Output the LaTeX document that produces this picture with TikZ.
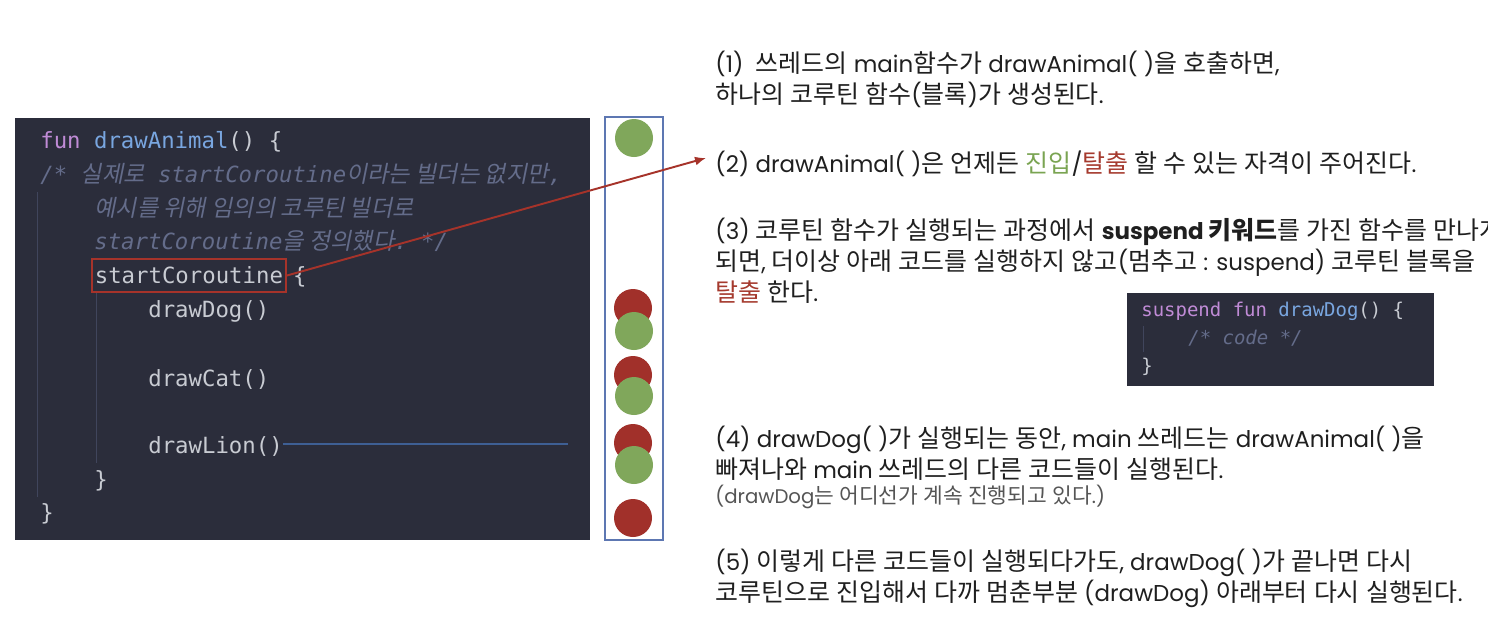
\documentclass[tikz,border=0pt]{standalone}
\usepackage{fontspec}
\setmainfont{Poppins}[Scale=0.92]
\setmonofont{DejaVu Sans Mono}
\newfontfamily\hangulfont{Noto Sans CJK KR}
\newfontfamily\codeko{Noto Sans CJK KR}[FakeSlant=0.2]
\usetikzlibrary{arrows.meta}

% Hangul syllables switch to the Korean family, everything else back to Poppins
\newXeTeXintercharclass\hgclass
\newcount\hgcode
\hgcode="AC00
\loop\ifnum\hgcode<"D7A4 \XeTeXcharclass\hgcode=\hgclass \advance\hgcode by 1 \repeat
\XeTeXinterchartoks 0 \hgclass = {\hangulfont}
\XeTeXinterchartoks 4095 \hgclass = {\hangulfont}
\XeTeXinterchartoks \hgclass 0 = {\rmfamily}
\XeTeXinterchartoks \hgclass 4095 = {\rmfamily}
\newcommand\hgon{\XeTeXinterchartokenstate=1\relax}

\definecolor{codebg}{HTML}{2B2D3B}
\definecolor{codetxt}{HTML}{C8CBD2}
\definecolor{codekw}{HTML}{C08BD6}
\definecolor{codefn}{HTML}{79A6E0}
\definecolor{codecmt}{HTML}{646C8A}
\definecolor{guide}{HTML}{40455C}
\definecolor{boxred}{HTML}{A6332A}
\definecolor{dotred}{HTML}{A1302A}
\definecolor{dotgreen}{HTML}{80A75B}
\definecolor{colblue}{HTML}{5D77B2}
\definecolor{lionblue}{HTML}{3E5F94}
\definecolor{entergreen}{HTML}{7AA452}
\definecolor{exitred}{HTML}{A53A2E}
\definecolor{notegray}{HTML}{555555}

\newcommand\kw[1]{\textcolor{codekw}{#1}}
\newcommand\fn[1]{\textcolor{codefn}{#1}}
\newcommand\hg[1]{{\codeko\fontsize{13.2}{15}\selectfont #1}}

\tikzset{
  code/.style={anchor=base west, inner sep=0, text=codetxt, font=\ttfamily\fontsize{12.7}{15}\selectfont},
  cmt/.style={code, text=codecmt, font=\ttfamily\itshape\fontsize{12.7}{15}\selectfont},
  small code/.style={code, font=\ttfamily\fontsize{10.8}{13}\selectfont},
  expl/.style={anchor=north west, inner sep=0, align=left, text=black!88,
    font=\hgon\fontsize{14.2}{17.6}\selectfont},
  dot/.style={circle, inner sep=0, minimum size=7.6mm},
  guideline/.style={guide, line width=.5pt}
}

\begin{document}
\begin{tikzpicture}[x=0.2mm, y=-0.2mm]
\useasboundingbox (0,0) rectangle (1488,628);

% code panel
\fill[codebg] (15,118) rectangle (590,540);
\draw[guideline] (37,192) -- (37,497);
\draw[guideline] (96,293) -- (96,463);
\node[code] (l1) at (40,148) {\kw{fun} \fn{drawAnimal}() \{};
\node[cmt] (l2) at (40,182) {/* \hg{실제로} startCoroutine\hg{이라는 빌더는 없지만},};
\node[cmt] (l3) at (94,216) {\hg{예시를 위해 임의의 코루틴 빌더로}};
\node[cmt] (l4) at (94,249) {startCoroutine\hg{을 정의했다}. */};
\node[code, draw=boxred, line width=1pt, inner xsep=0.6mm, inner ysep=0.4mm,
      text height=12.5pt, text depth=4pt] (startco) at (91,283) {startCoroutine\ };
\node[code] (l5) at ([xshift=1.2mm]startco.base east) {\{};
\node[code] (dog) at (148,317) {drawDog()};
\node[code] (cat) at (148,386) {drawCat()};
\node[code] (lion) at (148,453) {drawLion()};
\node[code] (l9) at (94,487) {\}};
\node[code] (l10) at (40,520) {\}};
\coordinate (lionend) at (568,444);
\draw[lionblue, line width=.8pt] (lion.east |- lionend) -- (lionend);

% column of dots
\node[draw=colblue, fill=white, line width=1pt, minimum width=11.6mm, minimum height=84.6mm,
      inner sep=0] (col) at (634,328.5) {};
\foreach \y [count=\i] in {308,375,443,518}
  \node[dot, fill=dotred] (red\i) at (633,\y) {};
\foreach \y [count=\i] in {138,331,396,465}
  \node[dot, fill=dotgreen] (green\i) at (634,\y) {};

% explanations
\node[expl] (p1) at (715,51) {(1)\ \ 쓰레드의 main함수가 drawAnimal( )을 호출하면,\\하나의 코루틴 함수(블록)가 생성된다.};
\node[expl] (p2) at (715,151) {(2) drawAnimal( )은 언제든 \textcolor{entergreen}{진입}/\textcolor{exitred}{탈출} 할 수 있는 자격이 주어진다.};
\node[expl] (p3) at (715,218) {(3) 코루틴 함수가 실행되는 과정에서 \textbf{suspend 키워드}를 가진 함수를 만나게\\되면, 더이상 아래 코드를 실행하지 않고(멈추고 : suspend) 코루틴 블록을\\\textcolor{exitred}{탈출} 한다.};
\node[expl] (p4) at (715,426) {(4) drawDog( )가 실행되는 동안, main 쓰레드는 drawAnimal( )을\\빠져나와 main 쓰레드의 다른 코드들이 실행된다.};
\node[expl, text=notegray, font=\hgon\fontsize{12.2}{14}\selectfont] (p4note) at (715,485) {(drawDog는 어디선가 계속 진행되고 있다.)};
\node[expl] (p5) at (715,549) {(5) 이렇게 다른 코드들이 실행되다가도, drawDog( )가 끝나면 다시\\코루틴으로 진입해서 다까 멈춘부분 (drawDog) 아래부터 다시 실행된다.};

% suspend snippet
\fill[codebg] (1127,293) rectangle (1434,386);
\draw[guideline] (1143,326) -- (1143,352);
\node[small code] (s1) at (1141,316) {\kw{suspend} \kw{fun} \fn{drawDog}() \{};
\node[small code, text=codecmt, font=\ttfamily\itshape\fontsize{10.8}{13}\selectfont] (s2) at (1188,344) {/* code */};
\node[small code] (s3) at (1141,372) {\}};

% arrow
\coordinate (tip) at (706,158);
\draw[boxred, line width=1.1pt, -{Latex[length=2.2mm, width=1.8mm]}] (startco.east) -- (tip);
\end{tikzpicture}
\end{document}
